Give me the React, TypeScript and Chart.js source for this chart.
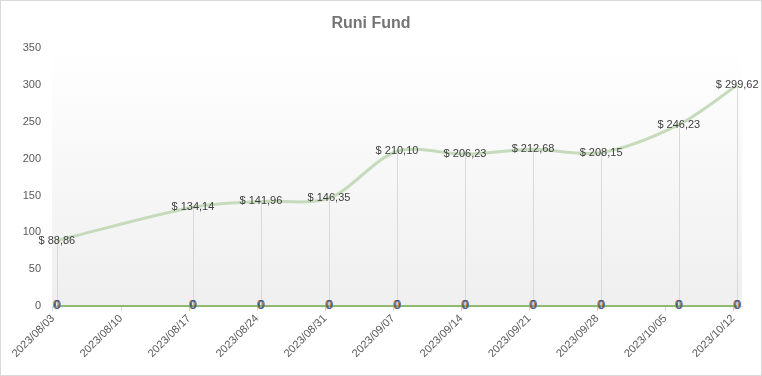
import React, { useEffect, useRef } from "react";
import { Chart, registerables } from "chart.js";
Chart.register(...registerables);

const chartTitle = "Runi Fund";
const tickLabels = [
  "2023/08/03", "2023/08/10", "2023/08/17", "2023/08/24", "2023/08/31", "2023/09/07",
  "2023/09/14", "2023/09/21", "2023/09/28", "2023/10/05", "2023/10/12",
];
const tickDays = [0, 7, 14, 21, 28, 35, 42, 49, 56, 63, 70];
const pointDays = [0.4, 14.4, 21.4, 28.4, 35.4, 42.4, 49.4, 56.4, 64.4, 70.4];
const fundValues = [88.86, 134.14, 141.96, 146.35, 210.1, 206.23, 212.68, 208.15, 246.23, 299.62];
const zeroValues = [0, 0, 0, 0, 0, 0, 0, 0, 0, 0];
const yMin = 0;
const yMax = 350;
const yStep = 50;

const FONT = "'Liberation Sans', Arial, sans-serif";

const fmt = (v: number) => "$ " + v.toFixed(2).replace(".", ",");

const decor = {
  id: "decor",
  beforeDraw(chart: any) {
    const { ctx, chartArea } = chart;
    const { left, right, top, bottom } = chartArea;
    ctx.save();
    ctx.fillStyle = "#ffffff";
    ctx.fillRect(0, 0, chart.width, chart.height);
    const g = ctx.createLinearGradient(0, top, 0, bottom);
    g.addColorStop(0, "#ffffff");
    g.addColorStop(1, "#efefef");
    ctx.fillStyle = g;
    ctx.fillRect(left, top, right - left, bottom - top);
    ctx.strokeStyle = "#d9d9d9";
    ctx.lineWidth = 1;
    ctx.strokeRect(0.5, 0.5, chart.width - 1, chart.height - 1);
    ctx.restore();
  },
  beforeDatasetsDraw(chart: any) {
    const { ctx, chartArea } = chart;
    const meta = chart.getDatasetMeta(0);
    ctx.save();
    ctx.strokeStyle = "#d9d9d9";
    ctx.lineWidth = 1;
    meta.data.forEach((p: any) => {
      const x = Math.round(p.x) + 0.5;
      ctx.beginPath();
      ctx.moveTo(x, p.y);
      ctx.lineTo(x, chartArea.bottom);
      ctx.stroke();
    });
    ctx.restore();
  },
  afterDatasetsDraw(chart: any) {
    const { ctx } = chart;
    ctx.save();
    ctx.font = `11px ${FONT}`;
    ctx.textAlign = "center";
    ctx.textBaseline = "middle";
    const meta0 = chart.getDatasetMeta(0);
    meta0.data.forEach((p: any, i: number) => {
      ctx.fillStyle = "#404040";
      ctx.fillText(fmt(fundValues[i]), p.x, p.y);
    });
    const meta1 = chart.getDatasetMeta(1);
    ctx.font = `12px ${FONT}`;
    meta1.data.forEach((p: any, i: number) => {
      const t = String(zeroValues[i]);
      ctx.fillStyle = "#ed7d31";
      ctx.fillText(t, p.x - 1, p.y);
      ctx.fillStyle = "#4472c4";
      ctx.fillText(t, p.x + 1, p.y);
      ctx.fillStyle = "#44546a";
      ctx.fillText(t, p.x, p.y);
    });
    ctx.restore();
  },
};

export default function App() {
  const ref = useRef<HTMLCanvasElement>(null);
  useEffect(() => {
    if (!ref.current) return;
    const chart = new Chart(ref.current, {
      type: "line",
      data: {
        datasets: [
          {
            label: "Fund",
            data: pointDays.map((d, i) => ({ x: d, y: fundValues[i] })),
            borderColor: "#c5dbbc",
            borderWidth: 3,
            tension: 0.3,
            pointRadius: 0,
            fill: false,
            clip: 6,
          },
          {
            label: "Zero",
            data: pointDays.map((d, i) => ({ x: d, y: zeroValues[i] })),
            borderColor: "#70ad47",
            borderWidth: 1.5,
            pointRadius: 0,
            fill: false,
            clip: 6,
          },
        ],
      },
      options: {
        responsive: false,
        animation: false,
        devicePixelRatio: 1,
        layout: { padding: { left: 0, right: 20, top: 0, bottom: 0 } },
        plugins: {
          legend: { display: false },
          tooltip: { enabled: false },
          title: {
            display: true,
            text: chartTitle,
            color: "#757575",
            font: { family: FONT, size: 16, weight: "bold" },
            padding: { top: 14, bottom: 15 },
          },
        },
        scales: {
          x: {
            type: "linear",
            min: -0.1,
            max: 70.9,
            afterFit: (s: any) => {
              s.height = 70;
            },
            afterBuildTicks: (s: any) => {
              s.ticks = tickDays.map((v) => ({ value: v }));
            },
            grid: {
              drawOnChartArea: false,
              drawTicks: true,
              tickLength: 5,
              color: "#d9d9d9",
            },
            border: { display: true, color: "#d9d9d9" },
            ticks: {
              autoSkip: false,
              minRotation: 45,
              maxRotation: 45,
              padding: 1,
              color: "#595959",
              font: { family: FONT, size: 11 },
              callback: (v: any) => {
                const idx = tickDays.indexOf(Number(v));
                return idx >= 0 ? tickLabels[idx] : "";
              },
            },
          },
          y: {
            min: yMin,
            max: yMax,
            afterFit: (s: any) => {
              s.width = 52;
            },
            grid: { display: false, drawTicks: false },
            border: { display: false },
            ticks: {
              stepSize: yStep,
              padding: 11,
              color: "#595959",
              font: { family: FONT, size: 11 },
            },
          },
        },
      },
      plugins: [decor],
    } as any);
    return () => chart.destroy();
  }, []);
  return (
    <div style={{ position: "fixed", left: 0, top: 0, width: 762, height: 376 }}>
      <canvas ref={ref} width={762} height={376} style={{ display: "block" }} />
    </div>
  );
}
